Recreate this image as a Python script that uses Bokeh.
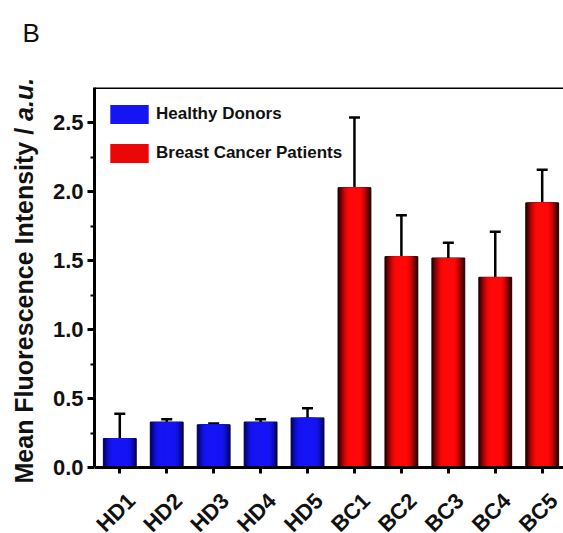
from math import pi

from bokeh.embed import file_html
from bokeh.models import (ColumnDataSource, FixedTicker, Label, Legend,
                          LegendItem, NumeralTickFormatter, Range1d, Span,
                          TeeHead, Whisker)
from bokeh.plotting import figure
from bokeh.resources import INLINE

# ---- data -------------------------------------------------------------
samples = ["HD1", "HD2", "HD3", "HD4", "HD5", "BC1", "BC2", "BC3", "BC4", "BC5"]
group_names = ["Healthy Donors", "Breast Cancer Patients"]
healthy_idx = [0, 1, 2, 3, 4]
cancer_idx = [5, 6, 7, 8, 9]
mean_intensity = [0.21, 0.33, 0.31, 0.33, 0.36, 2.03, 1.53, 1.52, 1.38, 1.92]
sd_intensity = [0.18, 0.02, 0.01, 0.02, 0.07, 0.51, 0.30, 0.11, 0.33, 0.24]
y_ticks = [0.0, 0.5, 1.0, 1.5, 2.0, 2.5]
y_minor_ticks = [0.25, 0.75, 1.25, 1.75, 2.25]

positions = list(range(1, len(samples) + 1))

FONT = "Liberation Sans"
INK = "#111111"
BAR_W = 0.70
LAYERS = 14
BASE = 0.0                      # value axis origin
X_LO, X_HI = 0.461, 10.454
Y_HI = 2.757
FRAME_W, FRAME_H = 469.0, 446.0
PX_PER_UNIT = 380.0 / (Y_HI - BASE)
Y_LO = Y_HI - FRAME_H / PX_PER_UNIT   # room under the origin for slanted names

p = figure(
    width=563, height=533,
    x_range=Range1d(X_LO, X_HI), y_range=Range1d(Y_LO, Y_HI),
    x_axis_location="above",
    output_backend="svg", toolbar_location=None,
    min_border_left=94, min_border_right=0,
    min_border_top=87, min_border_bottom=0,
)
p.outline_line_color = None
p.xgrid.visible = False
p.ygrid.visible = False
p.background_fill_color = "white"
p.border_fill_color = "white"


def shade(edge, centre, r, flat):
    """Colour of a cylinder-shaded bar at relative distance r from its axis."""
    t = max(0.0, (r - flat) / (1.0 - flat))
    k = 1.0 - t ** 1.7
    rgb = [int(round(e + (c - e) * k)) for e, c in zip(edge, centre)]
    return "#%02x%02x%02x" % tuple(rgb)


def shaded_bars(idx, edge, centre, flat, outline):
    src = ColumnDataSource(dict(
        x=[positions[i] for i in idx],
        top=[mean_intensity[i] for i in idx],
    ))
    rends = []
    for k in range(LAYERS):
        w = BAR_W * (1 - k / LAYERS)
        r = 1 - (k + 0.5) / LAYERS
        r_ = p.vbar(x="x", top="top", bottom=BASE, width=w, source=src,
                    fill_color=shade(edge, centre, r, flat),
                    line_color=outline if k == 0 else None,
                    line_width=1)
        rends.append(r_)
    return rends


blue_r = shaded_bars(healthy_idx, (0, 0, 90), (20, 20, 245), 0.45, "#00003a")
red_r = shaded_bars(cancer_idx, (20, 0, 0), (255, 8, 8), 0.30, "#1a0000")

# upward error bars
err_src = ColumnDataSource(dict(
    base=positions,
    lower=mean_intensity,
    upper=[m + s for m, s in zip(mean_intensity, sd_intensity)],
))
whisk = Whisker(base="base", lower="lower", upper="upper", source=err_src,
                line_color="black", line_width=2.5, lower_head=None,
                upper_head=TeeHead(size=11, line_width=2.5, line_color="black"))
p.add_layout(whisk)

# ---- axes -------------------------------------------------------------
yax = p.yaxis[0]
yax.bounds = (BASE, Y_HI)
yax.ticker = FixedTicker(ticks=y_ticks, minor_ticks=y_minor_ticks)
yax.formatter = NumeralTickFormatter(format="0.0")
yax.axis_line_width = 3
yax.major_tick_out = 7
yax.major_tick_in = 0
yax.major_tick_line_width = 3
yax.minor_tick_out = 4
yax.minor_tick_in = 0
yax.minor_tick_line_width = 2
yax.major_label_standoff = 4
yax.major_label_text_font = FONT
yax.major_label_text_font_style = "bold"
yax.major_label_text_font_size = "22px"
yax.major_label_text_color = INK

# category axis pinned at the origin: line and downward ticks only
xax = p.xaxis[0]
xax.fixed_location = BASE
xax.ticker = FixedTicker(ticks=positions, minor_ticks=[])
xax.axis_line_width = 3
xax.major_tick_out = 0
xax.major_tick_in = 6
xax.major_tick_line_width = 3
xax.major_label_standoff = 0
xax.major_label_text_font_size = "1px"
xax.major_label_text_color = None

# sample names, slanted at 45 degrees and centred under each tick
for pos, name in zip(positions, samples):
    p.add_layout(Label(x=pos, y=BASE, text=name, angle=pi / 4,
                       x_offset=-4, y_offset=-45,
                       text_align="center", text_baseline="middle",
                       text_font=FONT, text_font_style="bold",
                       text_font_size="22px", text_color=INK))

# top border of the frame (no right-hand border)
p.add_layout(Span(location=Y_HI, dimension="width", line_color="black",
                  line_width=3))

# ---- y-axis title (italic unit) and panel letter ---------------------
x_per_px = (X_HI - X_LO) / FRAME_W
y_per_px = 1.0 / PX_PER_UNIT
title_x = X_LO - 71 * x_per_px
title_y0 = BASE - 16 * y_per_px
p.add_layout(Label(x=title_x, y=title_y0,
                   text="Mean Fluorescence Intensity / ", angle=pi / 2,
                   text_font=FONT, text_font_style="bold",
                   text_font_size="25px", text_color=INK,
                   text_align="left", text_baseline="alphabetic"), "left")
p.add_layout(Label(x=title_x, y=title_y0 + 14.505 * 25 * y_per_px,
                   text="a.u.", angle=pi / 2,
                   text_font=FONT, text_font_style="bold italic",
                   text_font_size="25px", text_color=INK,
                   text_align="left", text_baseline="alphabetic"), "above")
p.add_layout(Label(x=X_LO - 72 * x_per_px, y=Y_HI + 55 * y_per_px,
                   text="B", text_font=FONT, text_font_size="26px",
                   text_color=INK, text_align="left",
                   text_baseline="alphabetic"), "above")

# ---- legend -----------------------------------------------------------
legend = Legend(
    items=[LegendItem(label=group_names[0], renderers=[blue_r[LAYERS // 2]]),
           LegendItem(label=group_names[1], renderers=[red_r[LAYERS // 2]])],
    location=(11, 368), margin=0, padding=0, spacing=15,
    glyph_width=48, glyph_height=24, label_height=24, label_standoff=3,
    border_line_color=None, background_fill_alpha=0,
    label_text_font=FONT, label_text_font_style="bold",
    label_text_font_size="17px", label_text_color=INK,
)
p.add_layout(legend)

open("out.html", "w").write(file_html(p, INLINE))
